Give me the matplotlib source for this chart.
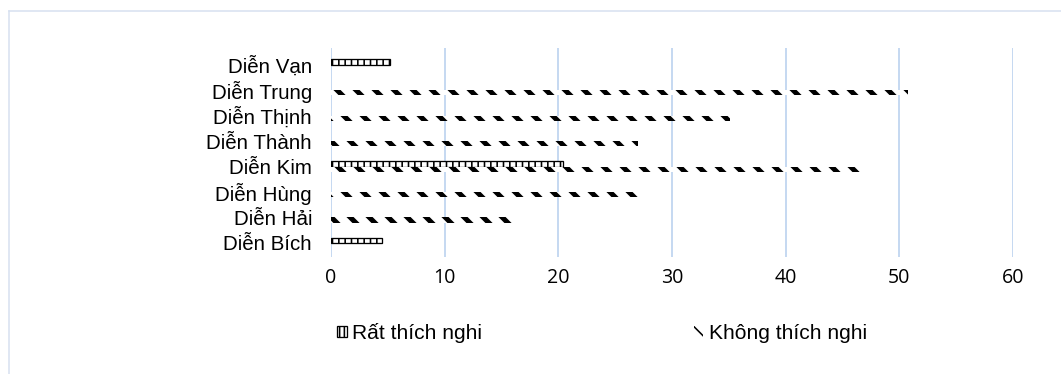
import matplotlib
matplotlib.use("Agg")
import matplotlib.pyplot as plt
from matplotlib.lines import Line2D
from matplotlib.patches import Patch
import numpy as np

categories = ['Diễn Bích', 'Diễn Hải', 'Diễn Hùng', 'Diễn Kim',
              'Diễn Thành', 'Diễn Thịnh', 'Diễn Trung', 'Diễn Vạn']
rat_thich_nghi = [4.5, 0, 0, 20.4, 0, 0, 0, 5.2]
khong_thich_nghi = [0, 16.2, 27.3, 47.0, 27.0, 35.1, 50.8, 0]
series_names = ['Rất thích nghi', 'Không thích nghi']
xticks = [0, 10, 20, 30, 40, 50, 60]

DPI = 114
W, H = 1061, 374
PX = 72.0 / DPI  # points per pixel

fig = plt.figure(figsize=(W / DPI, H / DPI), dpi=DPI)
ax = fig.add_axes([331 / W, 1 - 257 / H, (1013 - 331) / W, (257 - 48) / H])

y = np.arange(len(categories))
bh = 0.21

RAT_HATCH, RAT_LW = '|||', 1.6 * PX
KH_HATCH, KH_LW = '\\\\', 3.2

with plt.rc_context({'hatch.linewidth': RAT_LW}):
    b1 = ax.barh(y + bh / 2, rat_thich_nghi, height=bh, color='white',
                 edgecolor='black', linewidth=1.3 * PX, hatch=RAT_HATCH,
                 label=series_names[0], zorder=3)
    h1 = Patch(facecolor='white', edgecolor='black', linewidth=1.3 * PX,
               hatch='||||')
with plt.rc_context({'hatch.linewidth': KH_LW}):
    b2 = ax.barh(y - bh / 2, khong_thich_nghi, height=bh, color='white',
                 edgecolor='black', linewidth=0, hatch=KH_HATCH,
                 label=series_names[1], zorder=3)
    h2 = Patch(facecolor='white', edgecolor='black', linewidth=0,
               hatch='\\\\\\')
for arts, lw in ((list(b1) + [h1], RAT_LW), (list(b2) + [h2], KH_LW)):
    for p in arts:
        if hasattr(p, 'set_hatch_linewidth'):
            p.set_hatch_linewidth(lw)
# hide outlines of zero-length bars
for p, v in zip(b1, rat_thich_nghi):
    if v == 0:
        p.set_visible(False)

ax.set_xlim(0, 60)
ax.set_ylim(-0.55, 7.65)
ax.set_xticks(xticks)
ax.set_xticklabels([str(t) for t in xticks], fontfamily='Open Sans',
                   fontsize=19.5 * PX)
ax.set_yticks(y)
ax.set_yticklabels(categories, fontfamily='Liberation Sans', fontsize=20.5 * PX)
ax.tick_params(axis='both', length=0)
ax.tick_params(axis='y', pad=19 * PX)
ax.tick_params(axis='x', pad=11 * PX)
for s in ax.spines.values():
    s.set_visible(False)
ax.grid(axis='x', color='#C6D9F1', linewidth=2 * PX, zorder=0)
ax.set_axisbelow(True)

# chart area border (top and left visible)
border_color = '#D6E0F0'
fig.add_artist(Line2D([8.5 / W, 1.0], [1 - 11 / H, 1 - 11 / H],
                      transform=fig.transFigure, color=border_color,
                      linewidth=1.5 * PX))
fig.add_artist(Line2D([8.5 / W, 8.5 / W], [0, 1 - 11 / H],
                      transform=fig.transFigure, color=border_color,
                      linewidth=1.5 * PX))

fs_leg = 21 * PX
leg = fig.legend(handles=[h1, h2], labels=series_names, loc='center',
                 bbox_to_anchor=(602 / W, 1 - 333 / H), ncol=2,
                 frameon=False, prop={'family': 'Liberation Sans', 'size': fs_leg},
                 handlelength=0.45, handleheight=0.45, handletextpad=0.25,
                 columnspacing=10.1, borderpad=0)

fig.savefig('out.png', dpi=DPI)
